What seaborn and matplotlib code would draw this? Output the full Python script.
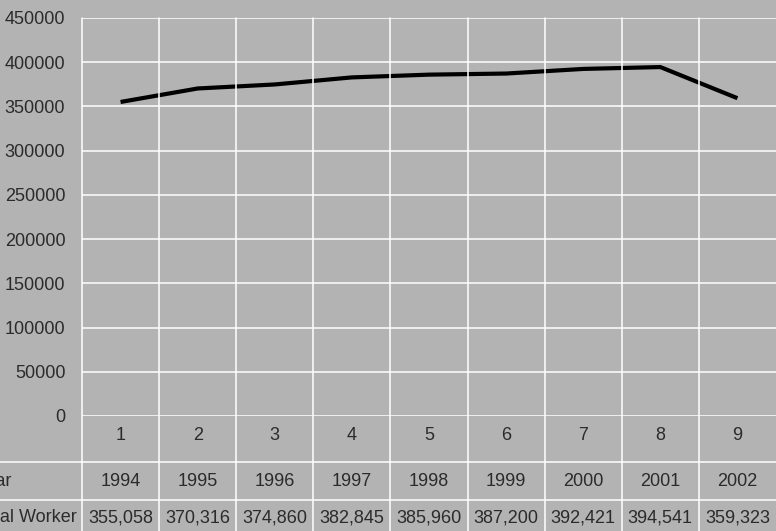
import matplotlib
matplotlib.use("Agg")
import matplotlib.pyplot as plt
from matplotlib.lines import Line2D
import seaborn as sns
import pandas as pd

categories = [1, 2, 3, 4, 5, 6, 7, 8, 9]
years = ["1994", "1995", "1996", "1997", "1998", "1999", "2000", "2001", "2002"]
total_worker = [355058, 370316, 374860, 382845, 385960, 387200, 392421, 394541, 359323]
row_labels = ["Year", "Total Worker"]
yticks = [0, 50000, 100000, 150000, 200000, 250000, 300000, 350000, 400000, 450000]

sns.set_theme(style="white")
plt.rcParams["font.family"] = ["Liberation Sans", "DejaVu Sans"]

BG = "#b3b3b3"
TXT = "#2b2b2b"
FS = 13

W, H = 776, 531
fig = plt.figure(figsize=(W / 100, H / 100), dpi=100, facecolor=BG)
left, right, top, bottom = 82, 776, 18, 416
ax = fig.add_axes([left / W, 1 - bottom / H, (right - left) / W, (bottom - top) / H])
ax.set_facecolor(BG)

df = pd.DataFrame({"cat": categories, "val": total_worker})
sns.lineplot(data=df, x="cat", y="val", ax=ax, color="black", linewidth=3.0, zorder=5,
             solid_joinstyle="round", solid_capstyle="butt")

ax.set_xlim(0.5, 9.5)
ax.set_ylim(0, 450000)
ax.set_yticks(yticks)
ax.set_yticklabels([str(v) for v in yticks], fontsize=FS, color=TXT)
ax.set_xticks(categories)
ax.set_xticklabels([str(c) for c in categories], fontsize=FS, color=TXT)
ax.tick_params(axis="x", length=0, pad=8)
ax.tick_params(axis="y", length=9, width=1.1, color="white", pad=3)
ax.set_xlabel("")
ax.set_ylabel("")
for s in ax.spines.values():
    s.set_visible(False)

# horizontal gridlines
for v in yticks:
    ax.axhline(v, color="white", linewidth=1.1, zorder=1)

# vertical column separators (extend through table)
for c in categories:
    xf = left / W + (c - 1) / 9 * (right - left) / W
    fig.add_artist(Line2D([xf, xf], [0, 1 - top / H], color="white", linewidth=1.1, zorder=1))

# table row separators
for yy in [462, 500]:
    fig.add_artist(Line2D([0, 1], [1 - yy / H, 1 - yy / H], color="white", linewidth=1.1))

# table texts (row labels start left of the figure edge, as in the original)
row_y = [481, 518]
rows = [years, [f"{v:,}" for v in total_worker]]
for ry, lab, vals in zip(row_y, row_labels, rows):
    fig.text(-24 / W, 1 - ry / H, lab, ha="left", va="center", fontsize=FS, color=TXT)
    for c, t in zip(categories, vals):
        xf = left / W + (c - 0.5) / 9 * (right - left) / W
        fig.text(xf, 1 - ry / H, t, ha="center", va="center", fontsize=FS, color=TXT)

fig.savefig("out.png", dpi=100, facecolor=BG)
